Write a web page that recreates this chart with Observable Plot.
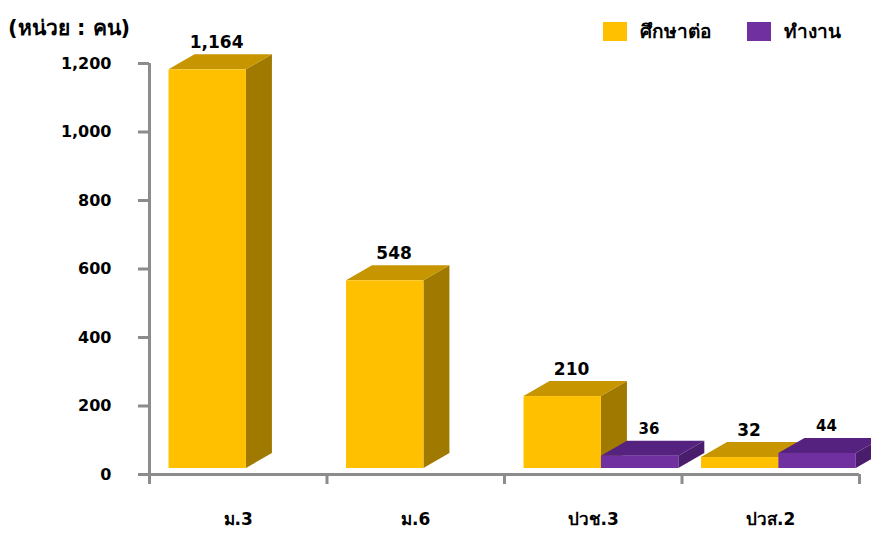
<!DOCTYPE html>
<html>
<head>
<meta charset="utf-8">
<script src="https://cdn.jsdelivr.net/npm/d3@7"></script>
<script src="https://cdn.jsdelivr.net/npm/@observablehq/plot@0.6"></script>
<style>
  html, body { margin: 0; padding: 0; background: #fff; }
  #wrap { position: relative; width: 871px; height: 535px; overflow: hidden; font-family: "DejaVu Sans", "Noto Sans", sans-serif; }
  #title { position: absolute; left: 8px; top: 11px; font-size: 21px; font-weight: bold; color: #000; white-space: nowrap; }
  #legend { position: absolute; left: 603px; top: 16px; display: flex; align-items: center; font-size: 19px; font-weight: bold; white-space: nowrap; }
  .sw { display: inline-block; width: 24px; height: 19px; margin-right: 13px; }
  .item { display: flex; align-items: center; }
  .item + .item { margin-left: 36px; }
  #chart svg { display: block; }
</style>
</head>
<body>
<div id="wrap">
  <div id="chart"></div>
  <div id="title"></div>
  <div id="legend"></div>
</div>
<script>
// ---- data ----
const categories = ["ม.3", "ม.6", "ปวช.3", "ปวส.2"];
const seriesNames = ["ศึกษาต่อ", "ทำงาน"];
const studyValues = [1164, 548, 210, 32];
const workValues = [null, null, 36, 44];
const yTicks = [0, 200, 400, 600, 800, 1000, 1200];
const titleText = "(หน่วย : คน)";

// ---- styling ----
const frontColors = ["#FFC000", "#7030A0"];
const topColors = ["#C69500", "#55227F"];
const sideColors = ["#A07900", "#4A1C6C"];

const W = 871, H = 535;
const mLeft = 149, mRight = 12, mTop = 63, mBottom = 61;
const pxPerX = (W - mLeft - mRight) / categories.length;
const pxPerY = (H - mTop - mBottom) / 1200;
const barOff = 0.11, barW = 0.436;
const DX = 26 / pxPerX, DY = 15 / pxPerY;
const lift = -6;

const seriesValues = [studyValues, workValues];
const bars = [];
categories.forEach((c, i) => {
  seriesValues.forEach((vals, j) => {
    const v = vals[i];
    if (v != null && v > 0) {
      const a = i + barOff + j * barW, b = a + barW;
      bars.push({id: `${i}-${j}`, i, j, cat: c, value: v, a, b});
    }
  });
});
const tops = bars.flatMap(d => [
  {id: d.id, y: d.value, x1: d.a, x2: d.b, fill: topColors[d.j]},
  {id: d.id, y: d.value + DY, x1: d.a + DX, x2: d.b + DX, fill: topColors[d.j]}
]);
const sides = bars.flatMap(d => [
  {id: d.id, x: d.b, y1: 0, y2: d.value, fill: sideColors[d.j]},
  {id: d.id, x: d.b + DX, y1: DY, y2: d.value + DY, fill: sideColors[d.j]}
]);

const axisGray = "#8c8c8c";
const plot = Plot.plot({
  width: W, height: H,
  marginLeft: mLeft, marginRight: mRight, marginTop: mTop, marginBottom: mBottom,
  x: {type: "linear", domain: [0, categories.length], axis: null},
  y: {domain: [0, 1200], axis: null},
  color: {type: "identity"},
  style: {fontFamily: "'DejaVu Sans', sans-serif", background: "#fff"},
  marks: [
    Plot.axisY({ticks: yTicks, tickSize: 11, tickPadding: 27, tickFormat: d3.format(","),
      stroke: axisGray, strokeWidth: 3, fill: "#000", fontSize: 16, fontWeight: "bold"}),
    Plot.axisX({ticks: d3.range(categories.length + 1), tickSize: 10, tickFormat: () => "",
      stroke: axisGray, strokeWidth: 3}),
    Plot.axisX({ticks: categories.map((c, i) => i + 0.5), tickSize: 0, tickPadding: 38,
      tickFormat: d => categories[Math.floor(d)], fill: "#000", fontSize: 17, fontWeight: "bold"}),
    Plot.ruleX([0], {y1: 0, y2: 1200, stroke: axisGray, strokeWidth: 3}),
    Plot.ruleY([0], {x1: 0, x2: categories.length, stroke: axisGray, strokeWidth: 3}),
    Plot.areaY(sides, {x: "x", y1: "y1", y2: "y2", z: "id", fill: "fill", dy: lift}),
    Plot.areaX(tops, {y: "y", x1: "x1", x2: "x2", z: "id", fill: "fill", dy: lift}),
    Plot.rect(bars, {x1: "a", x2: "b", y1: 0, y2: "value", fill: d => frontColors[d.j], dy: lift}),
    Plot.text(bars, {x: d => (d.a + d.b) / 2 + 0.05, y: "value", text: d => d3.format(",")(d.value),
      dy: lift - 27, fontSize: d => d.j ? 15 : 17, fontWeight: "bold", fill: "#000"})
  ]
});
document.getElementById("chart").appendChild(plot);

document.getElementById("title").textContent = titleText;
const legend = document.getElementById("legend");
seriesNames.forEach((n, j) => {
  const item = document.createElement("div");
  item.className = "item";
  const sw = document.createElement("span");
  sw.className = "sw";
  sw.style.background = frontColors[j];
  const t = document.createElement("span");
  t.textContent = n;
  item.appendChild(sw); item.appendChild(t);
  legend.appendChild(item);
});
</script>
</body>
</html>
